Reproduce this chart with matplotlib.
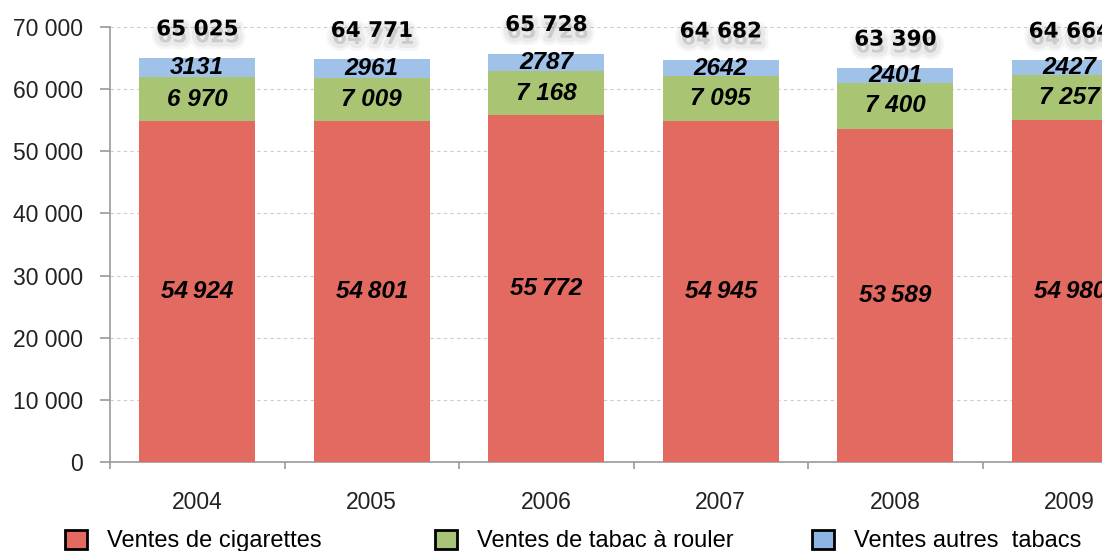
import matplotlib
matplotlib.use("Agg")
import matplotlib.pyplot as plt
import matplotlib.patheffects as pe
from matplotlib.patches import Patch
import numpy as np

years = ["2004", "2005", "2006", "2007", "2008", "2009"]
cigarettes = [54924, 54801, 55772, 54945, 53589, 54980]
tabac_rouler = [6970, 7009, 7168, 7095, 7400, 7257]
autres_tabacs = [3131, 2961, 2787, 2642, 2401, 2427]
totals = [65025, 64771, 65728, 64682, 63390, 64664]

series_names = ["Ventes de cigarettes", "Ventes de tabac à rouler", "Ventes autres  tabacs"]
colors = ["#E36A60", "#A9C574", "#A0C2E8"]
legend_colors = ["#E36A60", "#A9C476", "#8EB4E3"]

y_ticks = [0, 10000, 20000, 30000, 40000, 50000, 60000, 70000]

W, H = 1102, 551
fig = plt.figure(figsize=(W / 100, H / 100), dpi=100)

# axes placed in pixels; the right part runs past the figure edge like the source
ax = fig.add_axes([110 / W, (H - 462) / H, 6 * 174.5 / W, (462 - 27) / H])

x = np.arange(len(years))
bw = 0.665
cig = np.array(cigarettes)
rol = np.array(tabac_rouler)
aut = np.array(autres_tabacs)

b1 = ax.bar(x, cig, bw, color=colors[0], zorder=3)
b2 = ax.bar(x, rol, bw, bottom=cig, color=colors[1], zorder=3)
b3 = ax.bar(x, aut, bw, bottom=cig + rol, color=colors[2], zorder=3)

lab_font = dict(family=["Liberation Sans", "DejaVu Sans"], fontsize=17.5,
                fontweight="bold", fontstyle="italic", ha="center", va="center", zorder=5)


def fmt(v, sep):
    s = f"{v:,}"
    return s.replace(",", sep)


# soft drop shadow under the totals
shadow = [pe.Stroke(offset=(1, -5), linewidth=10, foreground="0.4", alpha=0.06),
          pe.Stroke(offset=(1, -5), linewidth=6, foreground="0.4", alpha=0.08),
          pe.Normal()]

for i in range(len(years)):
    ax.text(x[i], cig[i] / 2, fmt(cig[i], "\u2009"), **lab_font)
    ax.text(x[i], cig[i] + rol[i] / 2, fmt(rol[i], " "), **lab_font)
    ax.text(x[i], cig[i] + rol[i] + aut[i] / 2, str(aut[i]), **lab_font)
    ax.text(x[i], totals[i] + 4600, fmt(totals[i], " "), ha="center", va="center",
            fontsize=15.5, fontweight="bold", family="DejaVu Sans", zorder=5,
            clip_on=False, path_effects=shadow)

ax.set_xlim(-0.5, len(years) - 0.5)
ax.set_ylim(0, 70000)

ax.set_yticks(y_ticks)
ax.set_yticklabels([fmt(v, " ") for v in y_ticks], family="Liberation Sans", fontsize=16.5)
ax.set_xticks(x)
ax.set_xticklabels(years, family="Liberation Sans", fontsize=16.5)
ax.set_xticks(np.arange(-0.5, len(years)), minor=True)

ax.tick_params(axis="y", length=7.2, width=1.2, color="#9a9a9a", pad=12, labelcolor="#222222")
ax.tick_params(axis="x", which="major", length=0, pad=21, labelcolor="#222222")
ax.tick_params(axis="x", which="minor", length=5, width=1.2, color="#9a9a9a")

ax.grid(axis="y", color="#cccccc", linestyle=(0, (3, 3)), linewidth=0.8, zorder=0)
for side in ["top", "right"]:
    ax.spines[side].set_visible(False)
for side in ["left", "bottom"]:
    ax.spines[side].set_color("#9a9a9a")
    ax.spines[side].set_linewidth(1.2)

# three single-entry legends at the positions of the source
leg_x = [65, 435, 812]
for name, col, lx in zip(series_names, legend_colors, leg_x):
    h = Patch(facecolor=col, edgecolor="black", linewidth=2)
    lg = fig.legend(handles=[h], labels=[name], loc="center left",
                    bbox_to_anchor=(lx / W, 10 / H), frameon=False, borderpad=0,
                    borderaxespad=0, handlelength=0.93, handleheight=0.85,
                    handletextpad=0.85, prop=dict(family="Liberation Sans", size=17))

fig.savefig("out.png", dpi=100)
